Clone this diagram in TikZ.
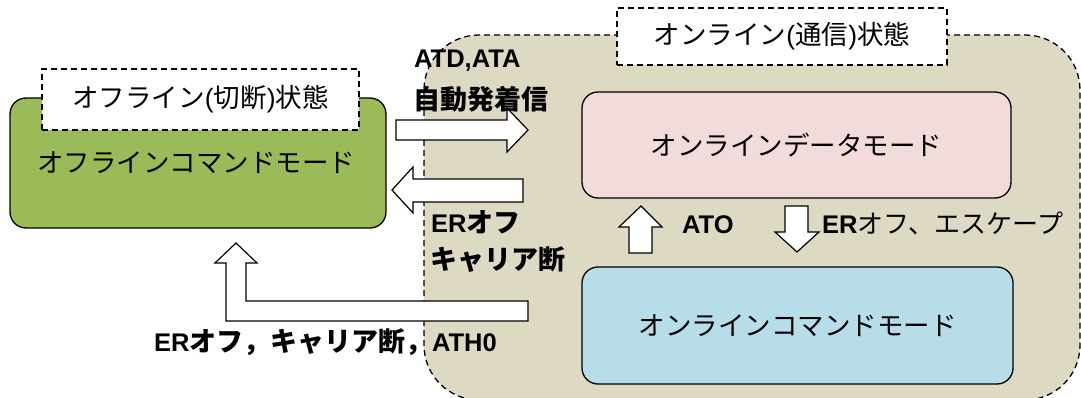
\documentclass[tikz,border=0pt]{standalone}
\usepackage{fontspec}
\setmainfont{Liberation Sans}
\newfontfamily\jp{Noto Sans CJK JP}
\definecolor{beige}{HTML}{DDD9C3}
\definecolor{grn}{HTML}{9BBB59}
\definecolor{pnk}{HTML}{F2DCDB}
\definecolor{blu}{HTML}{B7DDE8}
\newcommand\J[1]{{\jp #1}}
\newcommand\JB[1]{{\jp\fontsize{27}{30}\selectfont #1}}
\tikzset{
  region/.style={draw=black, line width=1.3pt, dash pattern=on 6pt off 4pt, rounded corners=55pt},
  titlebox/.style={draw=black, fill=white, line width=1.3pt, dash pattern=on 6pt off 4pt},
  modebox/.style={draw=black, line width=1.3pt, rounded corners=16pt},
  blockarrow/.style={draw=black, fill=white, line width=1.2pt, line join=miter},
  txt/.style={font=\fontsize{26.5}{30}\selectfont, inner sep=0pt},
  lbl/.style={font=\fontsize{25.5}{30}\selectfont\bfseries, inner sep=0pt, anchor=west},
}
\begin{document}
\begin{tikzpicture}[x=1pt,y=-1pt]
\useasboundingbox (0,0) rectangle (1081,398);
% online region
\draw[region, fill=beige] (424,35) rectangle (1080,400);
\node[titlebox, minimum width=330pt, minimum height=57pt, txt] (ontitle) at (782,36.5) {\J{オンライン}(\J{通信})\J{状態}};
% offline box
\node[modebox, fill=grn, minimum width=376pt, minimum height=130pt] (offbox) at (198,163) {};
\node[txt] (offtxt) at (196,163) {\J{オフラインコマンドモード}};
\node[titlebox, minimum width=317pt, minimum height=61pt, txt] (offtitle) at (200.5,99.5) {\J{オフライン}(\J{切断})\J{状態}};
% online modes
\node[modebox, fill=pnk, minimum width=429pt, minimum height=106pt, txt] (datamode) at (796.5,145) {\J{オンラインデータモード}};
\node[modebox, fill=blu, minimum width=431pt, minimum height=117pt, txt] (cmdmode) at (797.5,325.5) {\J{オンラインコマンドモード}};
% block arrows
\draw[blockarrow] (396,120) -- (507,120) -- (507,108) -- (528,130) -- (507,152) -- (507,140) -- (396,140) -- cycle;
\draw[blockarrow] (523,179) -- (413,179) -- (413,167) -- (392,190) -- (413,213) -- (413,202) -- (523,202) -- cycle;
\draw[blockarrow] (629,253) -- (629,227) -- (619,227) -- (641,206) -- (662,227) -- (652,227) -- (652,253) -- cycle;
\draw[blockarrow] (785,206) -- (808,206) -- (808,232) -- (819,232) -- (797,252) -- (775,232) -- (785,232) -- cycle;
\draw[blockarrow] (528,301) -- (246,301) -- (246,263) -- (257,263) -- (236,243) -- (215,263) -- (226,263) -- (226,321) -- (528,321) -- cycle;
% labels
\node[lbl] (l1) at (414,61) {ATD,ATA};
\node[lbl] (l2) at (413,99) {\JB{自動発着信}};
\node[lbl] (l3) at (431,222) {ER\JB{オフ}};
\node[lbl] (l4) at (430,260) {\JB{キャリア断}};
\node[lbl] (l5) at (682,225) {ATO};
\node[lbl] (l6) at (822,223) {ER{\mdseries\J{\fontsize{26}{30}\selectfont オフ、エスケープ}}};
\node[lbl] (l7) at (154,342) {ER\JB{オフ，キャリア断，}ATH0};
\end{tikzpicture}
\end{document}
